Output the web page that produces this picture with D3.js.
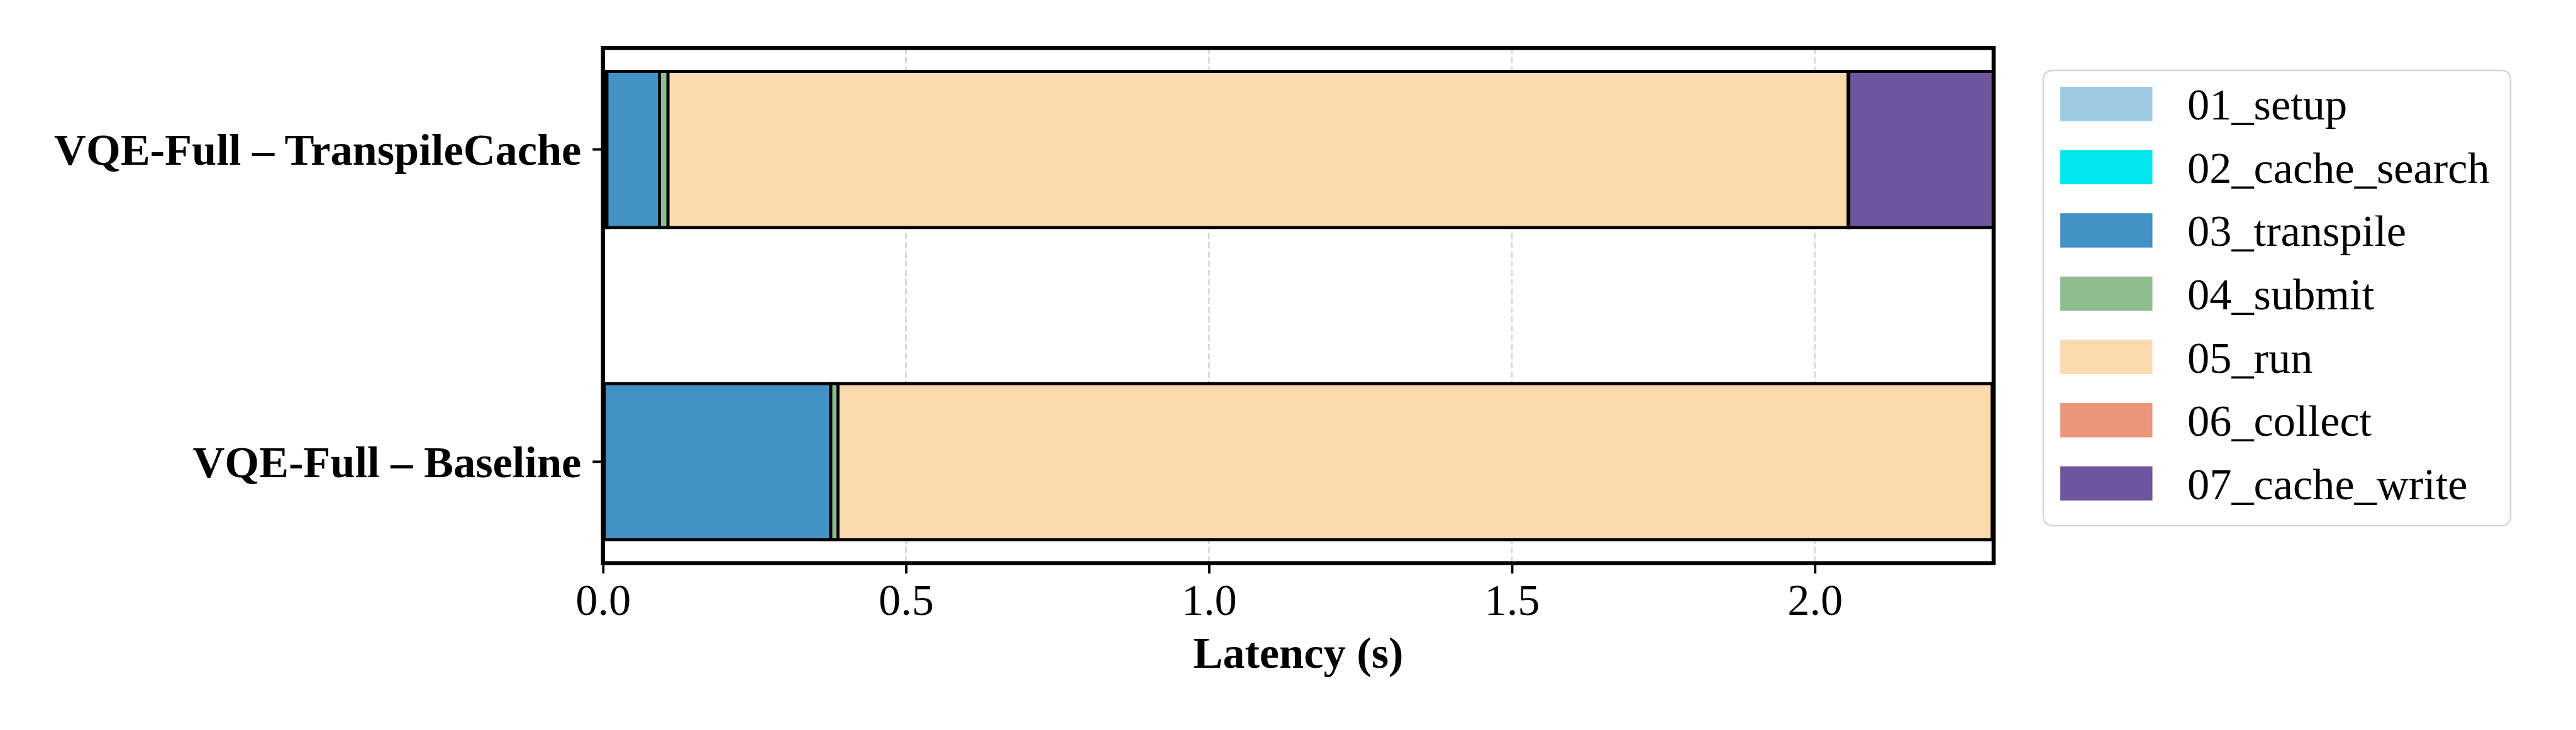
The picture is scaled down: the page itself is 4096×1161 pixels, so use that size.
<!DOCTYPE html>
<html>
<head>
<meta charset="utf-8">
<script src="https://cdn.jsdelivr.net/npm/d3@7/dist/d3.min.js"></script>
<style>
html,body{margin:0;padding:0;background:#fff;}
svg{display:block;}
text{font-family:"Liberation Serif","Times New Roman",serif;fill:#000;}
</style>
</head>
<body>
<svg id="chart" width="4096" height="1161"></svg>
<script>
// ---- data ----
const categories = ["VQE-Full – TranspileCache", "VQE-Full – Baseline"];
const stages = ["01_setup", "02_cache_search", "03_transpile", "04_submit", "05_run", "06_collect", "07_cache_write"];
const stageColors = ["#9ecae1", "#00e5ee", "#4292c6", "#8fbc8f", "#fcdab0", "#e9967a", "#6f559e"];
const setupVals       = [0.003, 0.002];
const cacheSearchVals = [0.0035, 0.0];
const transpileVals   = [0.0866, 0.374];
const submitVals      = [0.0142, 0.0118];
const runVals         = [1.9477, 1.905];
const collectVals     = [0.001, 0.001];
const cacheWriteVals  = [0.239, 0.0];
const xTicks = [0.0, 0.5, 1.0, 1.5, 2.0];
const xMax = 2.295;
const xLabel = "Latency (s)";

// ---- layout ----
const W = 4096, H = 1161;
const X0 = 958.8, X1 = 3170.0, Y0 = 76.3, Y1 = 895.7;
const FS = 70.4;

const svg = d3.select("#chart");

const seriesVals = [setupVals, cacheSearchVals, transpileVals, submitVals, runVals, collectVals, cacheWriteVals];
const rows = categories.map((c, i) => {
  const r = {cat: c};
  stages.forEach((s, k) => r[s] = seriesVals[k][i]);
  return r;
});
const stacked = d3.stack().keys(stages)(rows);

const x = d3.scaleLinear().domain([0, xMax]).range([X0, X1]);
const y = d3.scaleBand().domain(categories).range([Y0, Y1]).paddingInner(0.5).paddingOuter(0.075);
const color = d3.scaleOrdinal().domain(stages).range(stageColors);

// grid
svg.append("g").selectAll("line").data(xTicks).join("line")
  .attr("x1", d => x(d)).attr("x2", d => x(d))
  .attr("y1", Y0).attr("y2", Y1)
  .attr("stroke", "#d8d8d8").attr("stroke-width", 2.8)
  .attr("stroke-dasharray", "10.2,4.5");

// bars
svg.append("g").selectAll("g").data(stacked).join("g")
  .attr("fill", d => color(d.key))
  .selectAll("rect").data(d => d).join("rect")
  .attr("x", d => x(d[0]))
  .attr("width", d => Math.max(0, x(d[1]) - x(d[0])))
  .attr("y", d => y(d.data.cat))
  .attr("height", y.bandwidth())
  .attr("stroke", "#000").attr("stroke-width", 4.8);

// x axis
const xAxis = d3.axisBottom(x).tickValues(xTicks).tickFormat(d3.format(".1f"))
  .tickSizeOuter(0).tickSizeInner(16.5).tickPadding(0);
const gx = svg.append("g").attr("transform", `translate(0,${Y1})`).call(xAxis);
gx.select(".domain").remove();
gx.selectAll(".tick line").attr("stroke", "#000").attr("stroke-width", 3.8);
gx.selectAll(".tick text").attr("font-size", FS).attr("font-family", "Liberation Serif")
  .attr("y", 82.6).attr("dy", 0).attr("fill", "#000");

// y axis
const yAxis = d3.axisLeft(y).tickSizeOuter(0).tickSizeInner(16.5).tickPadding(0);
const gy = svg.append("g").attr("transform", `translate(${X0},0)`).call(yAxis);
gy.select(".domain").remove();
gy.selectAll(".tick line").attr("stroke", "#000").attr("stroke-width", 3.8);
gy.selectAll(".tick text").attr("font-size", FS).attr("font-family", "Liberation Serif")
  .attr("font-weight", "bold").attr("x", -34.5).attr("dy", "0.345em").attr("fill", "#000");

// spines
svg.append("rect").attr("x", X0).attr("y", Y0).attr("width", X1 - X0).attr("height", Y1 - Y0)
  .attr("fill", "none").attr("stroke", "#000").attr("stroke-width", 6.5);

// x label
svg.append("text").attr("x", (X0 + X1) / 2).attr("y", 1062)
  .attr("text-anchor", "middle").attr("font-size", FS).attr("font-weight", "bold")
  .text(xLabel);

// legend
const LX = 3249, LY = 112, LW = 743, LH = 724;
svg.append("rect").attr("x", LX).attr("y", LY).attr("width", LW).attr("height", LH)
  .attr("rx", 14).attr("ry", 14).attr("fill", "#fff")
  .attr("stroke", "#d6d6d6").attr("stroke-width", 2.6);
const leg = svg.append("g").selectAll("g").data(stages).join("g")
  .attr("transform", (d, i) => `translate(0,${138.0 + i * 100.6})`);
leg.append("rect").attr("x", 3276).attr("y", 0).attr("width", 146.5).attr("height", 54.5)
  .attr("fill", d => color(d));
leg.append("text").attr("x", 3478).attr("y", 27.25 + 25).attr("font-size", FS).text(d => d);
</script>
</body>
</html>
